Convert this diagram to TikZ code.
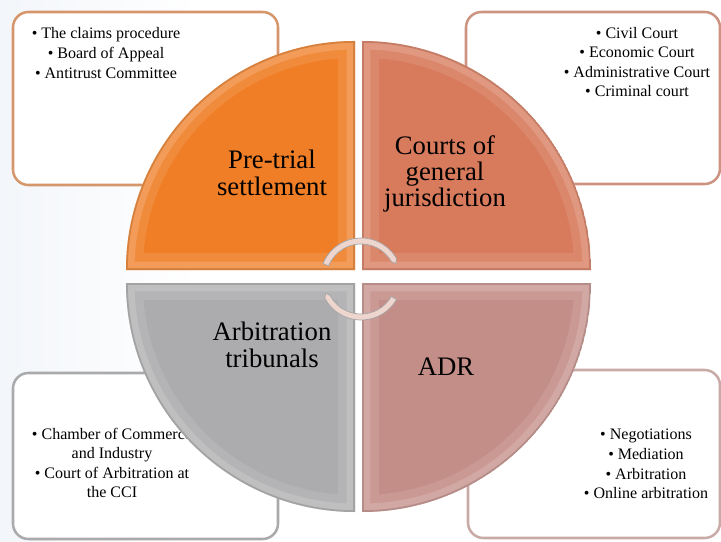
\documentclass[tikz,border=0pt]{standalone}
\usepackage{fontspec}
\setmainfont{Liberation Serif}
\newfontfamily\timesfont{Liberation Serif}
\usetikzlibrary{positioning}

\definecolor{pretrial}{RGB}{240,126,38}
\definecolor{courts}{RGB}{216,122,92}
\definecolor{tribunal}{RGB}{172,172,174}
\definecolor{adr}{RGB}{196,142,136}
\definecolor{pretrialedge}{RGB}{214,150,108}
\definecolor{courtsedge}{RGB}{204,148,128}
\definecolor{tribunaledge}{RGB}{170,170,172}
\definecolor{adredge}{RGB}{200,170,166}
\definecolor{cyclefill}{RGB}{238,214,206}
\definecolor{paper}{RGB}{243,246,250}

\tikzset{
	listbox/.style={line width=1.8pt, rounded corners=11pt, fill=white!96!paper},
	listtext/.style={align=center, inner sep=0pt, font=\timesfont\fontsize{11.4}{13.9}\selectfont},
	biglabel/.style={align=center, inner sep=0pt, font=\timesfont\fontsize{19}{18.8}\selectfont},
	cyclearrow/.style={fill=cyclefill, draw=black!35, line width=0.5pt},
}

\begin{document}
\begin{tikzpicture}[x=0.025cm, y=0.025cm]
	\useasboundingbox (0,0) rectangle (721,541);
	\fill[white] (0,0) rectangle (721,541);
	\shade[left color=paper, right color=white] (0,0) rectangle (200,541);

	% side boxes
	\draw[listbox, draw=pretrialedge] (13,356) rectangle (278,529);
	\draw[listbox, draw=courtsedge] (466,357) rectangle (720,529);
	\draw[listbox, draw=tribunaledge] (13,2) rectangle (278,168);
	\draw[listbox, draw=adredge] (468,3) rectangle (720,171);

	\node[listtext] (pretrial-list) at (106,488) {%
		\textbullet\ The claims procedure\\
		\textbullet\ Board of Appeal\\
		\textbullet\ Antitrust Committee};
	\node[listtext] (courts-list) at (637,479) {%
		\textbullet\ Civil Court\\
		\textbullet\ Economic Court\\
		\textbullet\ Administrative Court\\
		\textbullet\ Criminal court};
	\node[listtext] (tribunal-list) at (112,78) {%
		\textbullet\ Chamber of Commerce\\
		and Industry\\
		\textbullet\ Court of Arbitration at\\
		the CCI};
	\node[listtext] (adr-list) at (646,77) {%
		\textbullet\ Negotiations\\
		\textbullet\ Mediation\\
		\textbullet\ Arbitration\\
		\textbullet\ Online arbitration};

	% quarters of the disc, with a soft bevel
	\foreach \cx/\cy/\a/\col in {355/271/180/pretrial, 362/271/90/courts, 355/258/270/tribunal, 362/258/0/adr}{
		\begin{scope}
			\clip (\cx,\cy) -- ++(\a:229) arc[start angle=\a, end angle=\a-90, radius=229] -- cycle;
			\fill[\col] (\cx,\cy) circle (229);
			\draw[white, opacity=0.1, line width=24pt] (\cx,\cy) -- ++(\a:229) arc[start angle=\a, end angle=\a-90, radius=229] -- cycle;
			\draw[white, opacity=0.15, line width=12pt] (\cx,\cy) -- ++(\a:229) arc[start angle=\a, end angle=\a-90, radius=229] -- cycle;
			\draw[\col!75!black, opacity=0.45, line width=2.5pt] (\cx,\cy) -- ++(\a:229) arc[start angle=\a, end angle=\a-90, radius=229] -- cycle;
		\end{scope}
	}

	\node[biglabel] (pretrial) at (272,368) {Pre-trial\\settlement};
	\node[biglabel] (courts) at (445,367) {Courts of\\general\\jurisdiction};
	\node[biglabel] (tribunal) at (272,196) {Arbitration\\tribunals};
	\node[biglabel] (adr) at (446,174) {ADR};

	% turning arrows in the middle
	\begin{scope}[shift={(361,262)}]
		\filldraw[cyclearrow] (158:41) arc[start angle=158, end angle=30, radius=41] -- (24:38) -- (30:35) arc[start angle=30, end angle=158, radius=35] -- cycle;
		\filldraw[cyclearrow] (-30:41) arc[start angle=-30, end angle=-152, radius=41] -- (-158:38) -- (-152:35) arc[start angle=-152, end angle=-30, radius=35] -- cycle;
	\end{scope}
\end{tikzpicture}
\end{document}
